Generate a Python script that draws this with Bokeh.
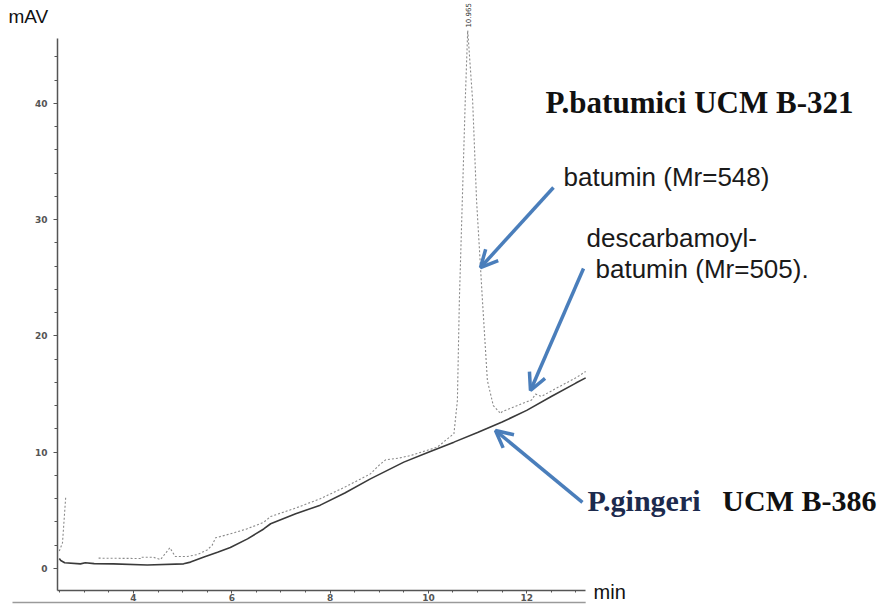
import numpy as np
from bokeh.plotting import figure
from bokeh.models import Range1d, FixedTicker, Label, Arrow, OpenHead
from bokeh.embed import file_html
from bokeh.resources import INLINE

nan = float("nan")

# ---- data ----
# P.gingeri UCM B-386 (solid trace)
gin_t = [2.49, 2.52, 2.6, 2.92, 3.02, 3.2, 3.59, 4.28, 5.02, 5.16, 5.42, 5.71,
         5.97, 6.32, 6.65, 6.79, 7.3, 7.8, 8.3, 8.82, 9.5, 10.0, 10.52, 11.0,
         11.5, 12.0, 12.5, 13.0, 13.2]
gin_v = [0.86, 0.69, 0.5, 0.4, 0.5, 0.42, 0.4, 0.3, 0.4, 0.55, 0.97, 1.4,
         1.8, 2.55, 3.4, 3.85, 4.7, 5.45, 6.5, 7.71, 9.15, 10.0, 10.87, 11.7,
         12.6, 13.6, 14.8, 15.95, 16.4]

# P.batumici UCM B-321 (dotted trace)
bat_t = [2.49, 2.555, 2.62, nan, 3.29, 4.14, 4.15, 4.4, 4.55, 4.74, 4.85, 5.09,
         5.3, 5.5, 5.6, 5.67, 5.97, 6.31, 6.65, 6.79, 7.3, 7.8, 8.3, 8.82, 9.0,
         9.13, 9.4, 9.64, 10.18, 10.52, 10.59, 10.63, 10.69, 10.75, 10.80, 10.90,
         10.98, 11.10, 11.20, 11.32, 11.47, 11.5, 11.8, 12.1, 12.18, 12.3, 12.6,
         13.0, 13.2]
bat_v = [1.5, 2.2, 6.1, nan, 0.89, 0.86, 0.97, 0.97, 0.77, 1.78, 1.03, 1.03,
         1.2, 1.6, 2.0, 2.64, 2.98, 3.41, 3.98, 4.47, 5.2, 6.0, 7.0, 8.14, 8.9,
         9.35, 9.5, 9.72, 10.44, 11.6, 14.45, 23.05, 31.66, 40.26, 46.28, 40.26,
         31.66, 23.05, 16.17, 14.02, 13.33, 13.5, 14.0, 14.5, 15.0, 14.8, 15.5,
         16.4, 16.95]

peak_time = 10.80
peak_height = 46.28
peak_label = "10.965"

x_ticks = [4, 6, 8, 10, 12]
y_ticks = [0, 10, 20, 30, 40]

# ---- figure ----
p = figure(width=884, height=607,
           x_range=Range1d(1.294, 19.28), y_range=Range1d(-3.355, 48.86),
           output_backend="svg", toolbar_location=None, min_border=0)
p.outline_line_color = None
p.xgrid.visible = False
p.ygrid.visible = False
p.background_fill_color = "white"
p.border_fill_color = "white"

p.line(gin_t, gin_v, line_color="#3a3a3a", line_width=1.6)
p.line(bat_t, bat_v, line_color="#8a8a8a", line_width=1.1, line_dash="2 2")

axis_col = "#555555"
for ax in (p.xaxis, p.yaxis):
    ax.axis_line_color = axis_col
    ax.axis_line_width = 1.5
    ax.major_tick_line_color = axis_col
    ax.minor_tick_line_color = axis_col
    ax.major_tick_in = 0
    ax.minor_tick_in = 0
    ax.major_label_text_font = "DejaVu Sans"
    ax.major_label_text_font_style = "bold"
    ax.major_label_text_font_size = "9px"
    ax.major_label_text_color = "#555555"

p.xaxis.fixed_location = -1.892
p.xaxis.ticker = FixedTicker(ticks=x_ticks,
                             minor_ticks=list(np.arange(2.5, 13.01, 0.5)))
p.xaxis.bounds = (2.454, 13.2)
p.xaxis.major_tick_out = 3
p.xaxis.minor_tick_out = 2
p.xaxis.major_label_standoff = 1

p.yaxis.fixed_location = 2.454
p.yaxis.ticker = FixedTicker(ticks=y_ticks,
                             minor_ticks=list(np.arange(0, 45, 2)))
p.yaxis.bounds = (-1.892, 45.6)
p.yaxis.major_tick_out = 4
p.yaxis.minor_tick_out = 3
p.yaxis.major_label_standoff = 6

# axis unit labels
p.add_layout(Label(x=1.457, y=46.54, text="mAV", text_font="Liberation Sans",
                   text_font_size="19px", text_color="#111111"))
p.add_layout(Label(x=13.36, y=-3.01, text="min", text_font="Liberation Sans",
                   text_font_size="20px", text_color="#111111"))
# bottom scan edge line
p.add_layout(Arrow(start=None, end=None, x_start=1.538, y_start=-2.92,
                   x_end=13.2, y_end=-2.92, line_color="#9a9a9a", line_width=1.5))

# peak retention-time label
p.add_layout(Label(x=peak_time, y=peak_height + 0.25, text=peak_label,
                   angle=np.pi / 2, text_align="left", text_baseline="middle",
                   text_font="DejaVu Sans", text_font_size="7px",
                   text_color="#333333"))

# annotations
p.add_layout(Label(x=12.383, y=38.6, text="P.batumici UCM B-321",
                   text_font="Liberation Serif", text_font_style="bold",
                   text_font_size="31px", text_color="#111111"))
sans = dict(text_font="Liberation Sans", text_font_size="26px",
            text_color="#1a1a1a")
p.add_layout(Label(x=12.749, y=32.37, text="batumin (Mr=548)", **sans))
p.add_layout(Label(x=13.217, y=27.10, text="descarbamoyl-", **sans))
p.add_layout(Label(x=13.40, y=24.43, text="batumin (Mr=505).", **sans))
p.add_layout(Label(x=13.237, y=4.39, text="P.gingeri",
                   text_font="Liberation Serif", text_font_style="bold",
                   text_font_size="30px", text_color="#1c2a4d"))
p.add_layout(Label(x=15.98, y=4.39, text="UCM B-386",
                   text_font="Liberation Serif", text_font_style="bold",
                   text_font_size="30px", text_color="#111111"))

blue = "#4a7ebb"
arrows = [
    (12.545, 32.77, 11.06, 25.89),
    (13.156, 25.81, 12.077, 15.31),
    (13.135, 5.68, 11.365, 11.87),
]
for xs, ys, xe, ye in arrows:
    p.add_layout(Arrow(end=OpenHead(size=17, line_color=blue, line_width=3.5),
                       x_start=xs, y_start=ys, x_end=xe, y_end=ye,
                       line_color=blue, line_width=3.5))

open("out.html", "w").write(file_html(p, INLINE))
